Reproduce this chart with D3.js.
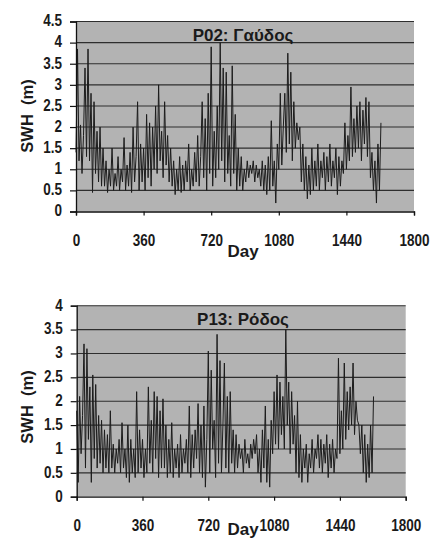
<!DOCTYPE html>
<html>
<head>
<meta charset="utf-8">
<script src="https://cdn.jsdelivr.net/npm/d3@7"></script>
<style>
  body { margin: 0; background: #fff; }
  svg text { font-family: 'Liberation Sans', Arial, sans-serif; font-weight: bold; fill: #1a1a1a; }
</style>
</head>
<body>
<div id="chart"></div>
<script>
// sampling step of the series (days)
const dayStep = 8;

const xTicks = [0, 360, 720, 1080, 1440, 1800];
const yTicksTop = [0, 0.5, 1, 1.5, 2, 2.5, 3, 3.5, 4, 4.5];
const yTicksBottom = [0, 0.5, 1, 1.5, 2, 2.5, 3, 3.5, 4];

const titles = ['P02: Γαύδος', 'P13: Ρόδος'];

// SWH (m), one value every 8 days
const swhGavdos = [
  1.4, 3.85, 1.2, 2.05, 0.9, 1.8, 3.4, 1.3, 3.85, 1.2,
  2.8, 0.45, 2.6, 0.9, 1.9, 0.7, 2.0, 0.6, 1.5, 0.6,
  1.2, 0.45, 1.0, 0.6, 1.5, 0.5, 0.9, 0.6, 1.3, 0.5,
  1.0, 0.7, 1.75, 0.5, 1.1, 0.6, 1.4, 0.45, 2.0, 0.7,
  1.3, 2.6, 0.5, 1.6, 0.7, 1.5, 0.5, 2.3, 0.8, 2.1,
  0.6, 2.0, 1.0, 2.5, 0.9, 3.0, 1.2, 1.9, 0.8, 2.6,
  1.1, 1.8, 0.7, 1.5, 0.6, 1.2, 0.4, 1.0, 0.5, 1.3,
  0.45, 1.1, 0.5, 1.2, 0.7, 1.6, 0.5, 1.0, 0.6, 1.4,
  0.7, 1.8, 0.6, 1.3, 2.6, 0.8, 2.2, 0.5, 2.8, 0.9,
  3.9, 0.6, 1.9, 0.8, 2.5, 1.0, 4.0, 1.2, 3.4, 0.7,
  3.3, 0.9, 1.8, 0.6, 3.45, 0.9, 2.3, 0.5, 1.5, 0.6,
  1.3, 0.5, 1.0, 0.7, 1.2, 0.8, 1.1, 0.9, 1.2, 0.7,
  1.1, 0.8, 1.0, 0.6, 1.2, 0.5, 1.1, 0.4, 1.3, 0.5,
  2.15, 0.6, 1.2, 0.2, 1.6, 1.0, 2.8, 1.1, 2.0, 2.8,
  1.4, 3.75, 1.6, 3.3, 1.2, 2.6, 1.5, 2.1, 1.7, 2.0,
  0.7, 1.6, 0.5, 1.3, 0.3, 1.1, 0.4, 1.5, 0.5, 1.2,
  0.6, 1.6, 0.5, 1.2, 0.8, 1.4, 0.5, 1.3, 0.7, 1.6,
  0.6, 1.2, 0.8, 1.5, 0.4, 1.3, 0.6, 1.2, 0.9, 2.1,
  1.0, 1.8, 1.2, 2.95, 1.3, 2.2, 1.4, 2.5, 1.5, 2.6,
  1.2, 2.4, 1.6, 2.7, 1.3, 2.6, 0.8, 1.4, 0.5, 1.2,
  0.2, 1.6, 0.5, 2.1
];

const swhRodos = [
  1.8, 0.3, 2.1, 0.9, 1.7, 3.2, 0.6, 3.1, 1.2, 2.3,
  0.3, 2.55, 0.8, 2.35, 0.6, 1.7, 0.7, 1.6, 0.5, 1.4,
  0.6, 1.3, 0.5, 1.8, 0.6, 1.1, 0.5, 1.0, 0.7, 1.2,
  0.5, 1.55, 0.6, 1.0, 0.4, 1.5, 0.3, 1.2, 0.5, 1.0,
  0.4, 2.2, 0.5, 1.4, 0.6, 1.2, 0.4, 1.0, 0.5, 2.3,
  0.7, 1.6, 0.5, 2.2, 0.8, 2.1, 0.4, 1.8, 0.6, 2.05,
  0.6, 1.5, 0.4, 1.2, 0.5, 1.55, 0.4, 1.0, 0.6, 1.1,
  0.4, 1.3, 0.5, 1.0, 0.7, 1.2, 0.5, 1.9, 0.4, 1.3,
  0.6, 1.4, 0.8, 1.95, 0.5, 1.5, 0.4, 1.9, 0.2, 1.2,
  3.05, 0.5, 2.65, 1.0, 1.6, 0.4, 3.4, 0.7, 2.85, 0.5,
  1.5, 2.8, 0.6, 2.1, 0.5, 2.2, 0.7, 1.4, 0.5, 1.3,
  0.6, 1.1, 0.8, 1.0, 0.5, 1.2, 0.7, 0.9, 0.6, 1.1,
  0.8, 1.2, 0.9, 1.3, 0.5, 1.0, 0.3, 1.4, 0.6, 1.9,
  0.3, 1.2, 0.2, 1.6, 0.9, 2.2, 1.1, 2.55, 1.0, 2.4,
  1.3, 2.1, 1.0, 3.5, 1.5, 2.4, 0.9, 2.2, 1.1, 1.7,
  0.5, 2.0, 0.4, 1.3, 0.3, 1.0, 0.6, 1.1, 0.3, 0.9,
  0.6, 1.2, 0.5, 1.0, 0.8, 1.3, 0.6, 1.2, 0.5, 1.1,
  0.7, 1.3, 0.4, 1.1, 0.6, 1.2, 0.5, 1.0, 0.8, 2.9,
  0.9, 1.8, 1.0, 2.8, 1.2, 2.2, 1.4, 2.3, 1.5, 2.8,
  1.3, 2.0, 1.6, 1.5, 0.9, 1.5, 0.5, 1.3, 0.3, 1.1,
  0.4, 1.5, 0.5, 2.1
];

const W = 430, H = 548;
// tick labels in the picture are a little taller than wide
const stretch = 1.18;

const svg = d3.select('#chart')
  .append('svg')
  .attr('width', W)
  .attr('height', H)
  .attr('viewBox', `0 0 ${W} ${H}`);

function drawPanel(cfg) {
  const x = d3.scaleLinear().domain([0, 1800]).range([cfg.left, cfg.right]);
  const y = d3.scaleLinear().domain([0, cfg.yMax]).range([cfg.bottom, cfg.top]);
  const g = svg.append('g');

  // plot area
  g.append('rect')
    .attr('x', cfg.left)
    .attr('y', cfg.top)
    .attr('width', cfg.right - cfg.left)
    .attr('height', cfg.bottom - cfg.top)
    .attr('fill', '#b3b3b3');

  // gridlines
  g.append('g')
    .selectAll('line')
    .data(cfg.yTicks.filter(d => d > 0))
    .join('line')
    .attr('x1', cfg.left)
    .attr('x2', cfg.right)
    .attr('y1', d => y(d))
    .attr('y2', d => y(d))
    .attr('stroke', '#2e2e2e')
    .attr('stroke-width', 1.1);

  // series
  const data = cfg.values.map((v, i) => ({ day: i * dayStep, swh: v }));
  g.append('path')
    .datum(data)
    .attr('fill', 'none')
    .attr('stroke', '#1c1c1c')
    .attr('stroke-width', 1)
    .attr('d', d3.line().x(d => x(d.day)).y(d => y(d.swh)));

  // axes
  const yAxis = g.append('g')
    .attr('transform', `translate(${cfg.left},0)`)
    .call(d3.axisLeft(y).tickValues(cfg.yTicks).tickSize(6).tickPadding(8).tickFormat(d3.format('')));
  yAxis.select('.domain').attr('stroke', '#111').attr('stroke-width', 1.3);
  yAxis.selectAll('.tick line').attr('stroke', '#111').attr('stroke-width', 1.2);
  yAxis.selectAll('text')
    .style('font-size', '13.5px')
    .attr('fill', '#1a1a1a')
    .attr('dy', (0.32 / stretch) + 'em')
    .attr('transform', `scale(1,${stretch})`);

  const xAxis = g.append('g')
    .attr('transform', `translate(0,${cfg.bottom})`)
    .call(d3.axisBottom(x).tickValues(xTicks).tickSize(4).tickPadding(21).tickFormat(d3.format('d')));
  xAxis.select('.domain').attr('stroke', '#111').attr('stroke-width', 1.3);
  xAxis.selectAll('.tick line').attr('stroke', '#111').attr('stroke-width', 1.2);
  xAxis.selectAll('text')
    .style('font-size', '13.5px')
    .attr('fill', '#1a1a1a')
    .attr('y', 25 / stretch)
    .attr('dy', (0.71 / stretch) + 'em')
    .attr('transform', `scale(1,${stretch})`);

  // title inside plot
  g.append('text')
    .attr('x', 243)
    .attr('y', cfg.top + 19)
    .attr('text-anchor', 'middle')
    .style('font-size', '17px')
    .text(cfg.title);

  // axis titles
  g.append('text')
    .attr('transform', `translate(${cfg.yLabelX},${cfg.yLabelY}) rotate(-90)`)
    .attr('text-anchor', 'middle')
    .style('font-size', '16.5px')
    .style('white-space', 'pre')
    .text('SWH  (m)');

  g.append('text')
    .attr('x', 243)
    .attr('y', cfg.dayY)
    .attr('text-anchor', 'middle')
    .style('font-size', '17px')
    .text('Day');
}

drawPanel({
  left: 76, right: 414, top: 21.5, bottom: 211.5, yMax: 4.5,
  yTicks: yTicksTop, values: swhGavdos, title: titles[0],
  yLabelX: 33, yLabelY: 116, dayY: 257
});

drawPanel({
  left: 76.7, right: 405.7, top: 305.7, bottom: 496.7, yMax: 4,
  yTicks: yTicksBottom, values: swhRodos, title: titles[1],
  yLabelX: 33, yLabelY: 407, dayY: 535
});
</script>
</body>
</html>
